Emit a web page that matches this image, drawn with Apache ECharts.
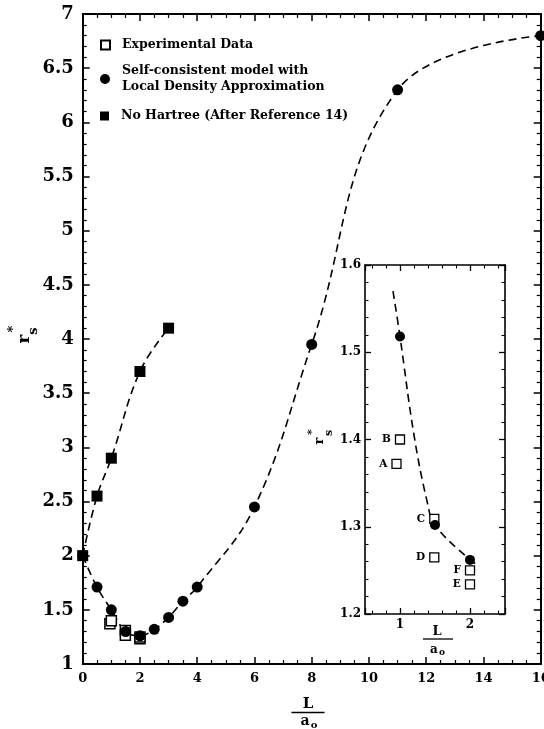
<!DOCTYPE html>
<html><head><meta charset="utf-8">
<script src="https://cdn.jsdelivr.net/npm/echarts@6/dist/echarts.min.js"></script>
<style>html,body{margin:0;padding:0;background:#fff}#c{width:544px;height:729px}</style>
</head><body><div id="c"></div>
<script>
// ---- data ----
const mainCircleX = [0, 0.5, 1, 1.5, 2, 2.5, 3, 3.5, 4, 6, 8, 11, 16];
const mainCircleY = [2.0, 1.71, 1.50, 1.30, 1.26, 1.32, 1.43, 1.58, 1.71, 2.45, 3.95, 6.3, 6.8];
const noHartreeX = [0, 0.5, 1, 2, 3];
const noHartreeY = [2.0, 2.55, 2.9, 3.7, 4.1];
const expLabels = ['A', 'B', 'C', 'D', 'E', 'F'];
const expX = [0.95, 1.0, 1.49, 1.49, 2.0, 2.0];
const expY = [1.372, 1.40, 1.309, 1.265, 1.234, 1.250];
const insetCircleX = [1, 1.5, 2];
const insetCircleY = [1.518, 1.302, 1.262];
const insetCurveX = [0.9, 1, 1.2, 1.39, 1.5, 2, 2.14];
const insetCurveY = [1.57, 1.518, 1.405, 1.328, 1.302, 1.262, 1.255];
const mainXTicks = [0, 16, 2];      // min, max, interval
const mainYTicks = [1, 7, 0.5];
const insetXRange = [0.5, 2.5];
const insetYTicks = [1.2, 1.6, 0.1];

const FONT = '"DejaVu Serif", "Liberation Serif", serif';
const pairs = (xs, ys) => xs.map((x, i) => [x, ys[i]]);
const BLACK = '#000';

function mainX(pos, show) {
  return {
    type: 'value', gridIndex: 0, position: pos,
    min: mainXTicks[0], max: mainXTicks[1], interval: mainXTicks[2],
    axisLine: { show: true, onZero: false, lineStyle: { color: BLACK, width: 2 } },
    axisTick: { show: true, inside: true, length: 7, lineStyle: { color: BLACK, width: 1.5 } },
    minorTick: { show: true, splitNumber: 4, length: 4, lineStyle: { color: BLACK, width: 1.2 } },
    axisLabel: { show: show, margin: 8, color: BLACK, fontFamily: FONT, fontWeight: 'bold', fontSize: 13,
      showMinLabel: true, showMaxLabel: true },
    splitLine: { show: false }, minorSplitLine: { show: false }
  };
}
function mainY(pos, show) {
  return {
    type: 'value', gridIndex: 0, position: pos,
    min: mainYTicks[0], max: mainYTicks[1], interval: mainYTicks[2],
    axisLine: { show: true, onZero: false, lineStyle: { color: BLACK, width: 2 } },
    axisTick: { show: true, inside: true, length: 7, lineStyle: { color: BLACK, width: 1.5 } },
    minorTick: { show: true, splitNumber: 5, length: 4, lineStyle: { color: BLACK, width: 1.2 } },
    axisLabel: { show: show, margin: 9, color: BLACK, fontFamily: FONT, fontWeight: 'bold', fontSize: 18,
      showMinLabel: true, showMaxLabel: true },
    splitLine: { show: false }, minorSplitLine: { show: false }
  };
}
function insetX(pos, show) {
  return {
    type: 'value', gridIndex: 1, position: pos,
    min: insetXRange[0], max: insetXRange[1], splitNumber: 2,
    axisLine: { show: true, onZero: false, lineStyle: { color: BLACK, width: 1.6 } },
    axisTick: { show: true, inside: true, length: 6, lineStyle: { color: BLACK, width: 1.3 } },
    minorTick: { show: true, splitNumber: 5, length: 3.5, lineStyle: { color: BLACK, width: 1.1 } },
    axisLabel: { show: show, margin: 5, color: BLACK, fontFamily: FONT, fontWeight: 'bold', fontSize: 12,
      formatter: v => (Math.abs(v - Math.round(v)) < 1e-9 ? String(Math.round(v)) : '') },
    splitLine: { show: false }, minorSplitLine: { show: false }
  };
}
function insetY(pos, show) {
  return {
    type: 'value', gridIndex: 1, position: pos,
    min: insetYTicks[0], max: insetYTicks[1], interval: insetYTicks[2],
    axisLine: { show: true, onZero: false, lineStyle: { color: BLACK, width: 1.6 } },
    axisTick: { show: true, inside: true, length: 6, lineStyle: { color: BLACK, width: 1.3 } },
    minorTick: { show: true, splitNumber: 5, length: 3.5, lineStyle: { color: BLACK, width: 1.1 } },
    axisLabel: { show: show, margin: 4, color: BLACK, fontFamily: FONT, fontWeight: 'bold', fontSize: 12,
      formatter: v => v.toFixed(1), showMinLabel: true, showMaxLabel: true },
    splitLine: { show: false }, minorSplitLine: { show: false }
  };
}

const dash = { color: BLACK, width: 1.6, type: [8, 5], opacity: 1 };
const legendText = { color: BLACK, fontFamily: FONT, fontWeight: 'bold', fontSize: 12.5, lineHeight: 16, padding: [0, 0, 0, 7] };
function oneLegend(name, top, size) {
  return { data: [name], left: 100, top: top, orient: 'vertical', padding: 0,
    itemWidth: size, itemHeight: size, selectedMode: false, textStyle: legendText };
}
const NAME_EXP = 'Experimental Data';
const NAME_SC = 'Self-consistent model with\nLocal Density Approximation';
const NAME_NH = 'No Hartree (After Reference 14)';

function txt(x, y, text, size, extra) {
  return Object.assign({ type: 'text', x: x, y: y, silent: true,
    style: { text: text, font: 'bold ' + size + 'px ' + FONT, fill: BLACK,
      align: 'center', verticalAlign: 'middle', textAlign: 'center', textVerticalAlign: 'middle' } }, extra || {});
}

const option = {
  animation: false,
  backgroundColor: '#fff',
  grid: [
    { left: 82.7, right: 3.3, top: 14, bottom: 65, containLabel: false, outerBoundsMode: 'none' },
    { left: 365, right: 39, top: 265, bottom: 115, containLabel: false, outerBoundsMode: 'none',
      show: true, backgroundColor: '#fff', borderWidth: 0 }
  ],
  xAxis: [mainX('bottom', true), mainX('top', false), insetX('bottom', true), insetX('top', false)],
  yAxis: [mainY('left', true), mainY('right', false), insetY('left', true), insetY('right', false)],
  legend: [oneLegend(NAME_EXP, 37, 9), oneLegend(NAME_SC, 63, 10), oneLegend(NAME_NH, 108, 9)],
  series: [
    { name: 'sc-curve', type: 'line', xAxisIndex: 0, yAxisIndex: 0, data: pairs(mainCircleX, mainCircleY),
      smooth: 0.4, symbol: 'none', lineStyle: dash, silent: true, clip: true, z: 2 },
    { name: 'nh-curve', type: 'line', xAxisIndex: 0, yAxisIndex: 0, data: pairs(noHartreeX, noHartreeY),
      smooth: 0.4, symbol: 'none', lineStyle: dash, silent: true, clip: true, z: 2 },
    { name: NAME_EXP, type: 'scatter', xAxisIndex: 0, yAxisIndex: 0, data: pairs(expX, expY), clip: true,
      symbol: 'rect', symbolSize: 10, itemStyle: { color: '#fff', borderColor: BLACK, borderWidth: 1.5, opacity: 1 }, z: 3 },
    { name: NAME_SC, type: 'scatter', xAxisIndex: 0, yAxisIndex: 0, data: pairs(mainCircleX, mainCircleY), clip: true,
      symbol: 'circle', symbolSize: 11, itemStyle: { color: BLACK, opacity: 1 }, z: 4 },
    { name: NAME_NH, type: 'scatter', xAxisIndex: 0, yAxisIndex: 0, data: pairs(noHartreeX, noHartreeY), clip: true,
      symbol: 'rect', symbolSize: 11, itemStyle: { color: BLACK, opacity: 1 }, z: 4 },
    { name: 'inset-curve', type: 'line', xAxisIndex: 2, yAxisIndex: 2, data: pairs(insetCurveX, insetCurveY),
      smooth: 0.4, symbol: 'none', lineStyle: dash, silent: true, z: 5 },
    { name: 'inset-exp', type: 'scatter', xAxisIndex: 2, yAxisIndex: 2,
      data: expX.map((x, i) => ({ name: expLabels[i], value: [x, expY[i]] })),
      symbol: 'rect', symbolSize: 9, itemStyle: { color: '#fff', borderColor: BLACK, borderWidth: 1.3, opacity: 1 },
      label: { show: true, position: 'left', distance: 4, formatter: '{b}', color: BLACK,
        fontFamily: FONT, fontWeight: 'bold', fontSize: 10.5 }, z: 6 },
    { name: 'inset-sc', type: 'scatter', xAxisIndex: 2, yAxisIndex: 2, data: pairs(insetCircleX, insetCircleY),
      symbol: 'circle', symbolSize: 10, itemStyle: { color: BLACK, opacity: 1 }, z: 7 }
  ],
  graphic: [
    // main x-axis name: L / a_o
    txt(308, 704, 'L', 15),
    { type: 'line', silent: true, shape: { x1: 291.5, y1: 712.5, x2: 324.5, y2: 712.5 }, style: { stroke: BLACK, lineWidth: 1.5 } },
    txt(305, 721, 'a', 14),
    txt(314, 725, 'o', 10),
    // main y-axis name: r*_s (rotated)
    { type: 'group', x: 25, y: 339, rotation: Math.PI / 2, silent: true, children: [
      txt(0, 0, 'r', 17), txt(10, -11, '*', 13), txt(8, 9, 's', 13) ] },
    // inset x-axis name
    txt(437, 632, 'L', 13),
    { type: 'line', silent: true, shape: { x1: 423, y1: 639, x2: 453, y2: 639 }, style: { stroke: BLACK, lineWidth: 1.3 } },
    txt(434, 650, 'a', 12),
    txt(442, 653, 'o', 9),
    // inset y-axis name
    { type: 'group', x: 320, y: 441, rotation: Math.PI / 2, silent: true, children: [
      txt(0, 0, 'r', 13), txt(9, -8, '*', 11), txt(8, 9, 's', 11) ] }
  ]
};

const chart = echarts.init(document.getElementById('c'), null, { renderer: 'canvas' });
chart.setOption(option);
</script></body></html>
